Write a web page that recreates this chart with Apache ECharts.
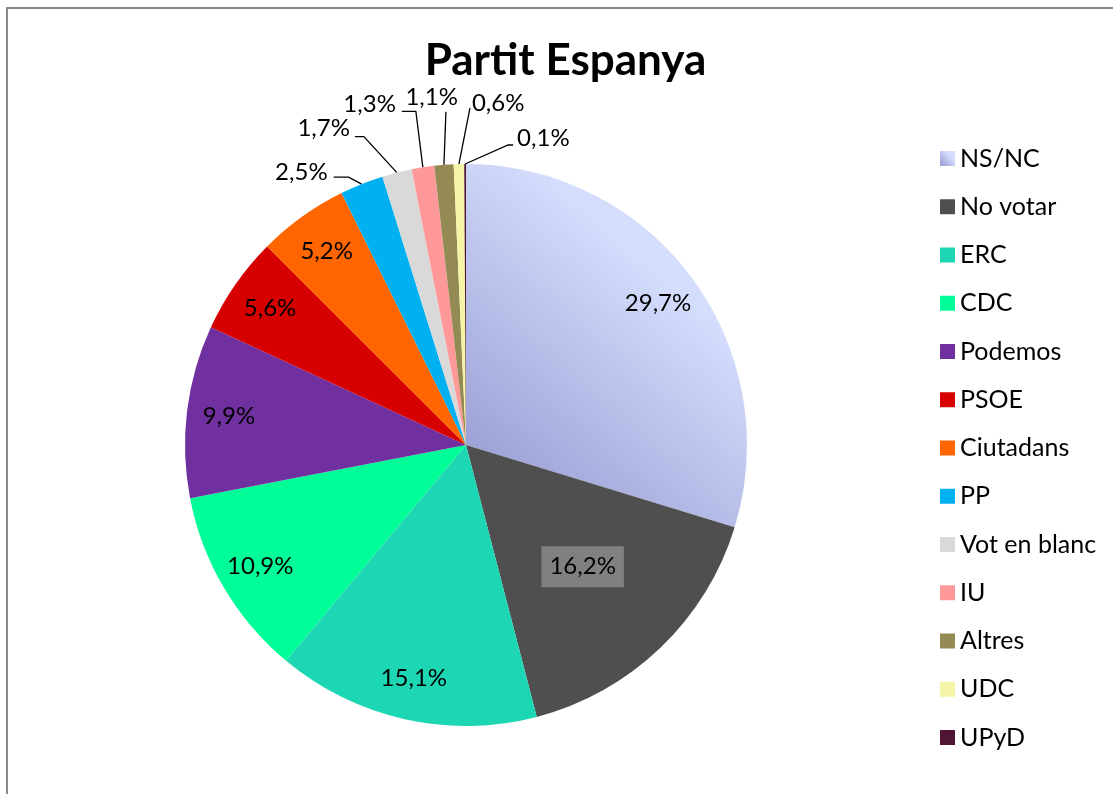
<!DOCTYPE html>
<html>
<head>
<meta charset="utf-8">
<script src="https://cdn.jsdelivr.net/npm/echarts@6/dist/echarts.min.js"></script>
<style>
  html, body { margin: 0; padding: 0; background: #fff; }
  #chart { width: 1113px; height: 794px; }
</style>
</head>
<body>
<div id="chart"></div>
<script>
// data
const categories = ['NS/NC', 'No votar', 'ERC', 'CDC', 'Podemos', 'PSOE', 'Ciutadans', 'PP', 'Vot en blanc', 'IU', 'Altres', 'UDC', 'UPyD'];
const values = [29.7, 16.2, 15.1, 10.9, 9.9, 5.6, 5.2, 2.5, 1.7, 1.3, 1.1, 0.6, 0.1];

const palette = [
  new echarts.graphic.LinearGradient(0, 0.78, 0.6, 0.25, [
    { offset: 0, color: '#9ca1d6' },
    { offset: 1, color: '#d4ddfc' }
  ]),
  '#4f4f4f', '#1cd6b4', '#00fd98', '#7030a0', '#d60000', '#ff6600',
  '#00b0f0', '#d9d9d9', '#ff9999', '#948a54', '#f6f4a6', '#501533'
];

const CX = 466, CY = 445, R = 281;
const FONT = 'Lato';

// where the labels sit, Excel-like
const insideRadius = { 'No votar': 0.6 };
// [elbow dx, elbow dy, horizontal length, text dx, text dy, align]
const outerLabels = {
  'PP': [-13, -7, -15, -6, -5, 'right'],
  'Vot en blanc': [-33, -36, -9, -5, -8, 'right'],
  'IU': [-7, -56, -14, -6, -7, 'right'],
  'Altres': [2, -53, 0, 12, -15, 'right'],
  'UDC': [11, -56, 0, 2, -5, 'left'],
  'UPyD': [43, -19, 5, 4, -7, 'left']
};

function fmt(v) {
  return v.toFixed(1).replace('.', ',') + '%';
}

const chart = echarts.init(document.getElementById('chart'));

chart.setOption({
  backgroundColor: '#fff',
  animation: false,
  title: {
    text: 'Partit Espanya',
    left: 565.5,
    textAlign: 'center',
    top: 40,
    padding: 0,
    textStyle: { fontFamily: FONT, fontWeight: 'bold', fontSize: 44, color: '#000', lineHeight: 41 }
  },
  legend: {
    orient: 'vertical',
    left: 935,
    top: 141,
    icon: 'rect',
    itemWidth: 15,
    itemHeight: 15,
    itemGap: 23.25,
    selectedMode: false,
    textStyle: { fontFamily: FONT, fontSize: 25, lineHeight: 25, color: '#000' },
    data: categories
  },
  graphic: [{
    type: 'rect',
    shape: { x: 7, y: 8, width: 1300, height: 1000 },
    style: { fill: 'none', stroke: '#8a8a8a', lineWidth: 2 },
    silent: true
  }],
  series: [{
    type: 'pie',
    center: [CX, CY],
    radius: R,
    startAngle: 90,
    clockwise: true,
    avoidLabelOverlap: false,
    emphasis: { disabled: true },
    itemStyle: { borderWidth: 0 },
    label: {
      show: true,
      position: 'outside',
      fontFamily: FONT,
      fontSize: 24,
      lineHeight: 24,
      color: '#000',
      formatter: p => fmt(p.value)
    },
    labelLine: { show: true, lineStyle: { color: '#000', width: 1.3 } },
    data: categories.map((name, i) => {
      const item = { name: name, value: values[i], itemStyle: { color: palette[i] } };
      if (values[i] >= 3) {
        item.label = { position: 'inside' };
        item.labelLine = { show: false };
        if (name === 'No votar') {
          item.label.backgroundColor = '#808080';
          item.label.padding = [9, 8, 8, 8];
        }
      }
      return item;
    }),
    labelLayout: function (p) {
      const name = categories[p.dataIndex];
      const rect = p.labelRect;
      if (values[p.dataIndex] >= 3) {
        const lx = rect.x + rect.width / 2 - CX;
        const ly = rect.y + rect.height / 2 - CY;
        const len = Math.sqrt(lx * lx + ly * ly) || 1;
        const d = (insideRadius[name] || 0.85) * R;
        return { x: CX + lx / len * d, y: CY + ly / len * d, align: 'center', verticalAlign: 'middle' };
      }
      const o = outerLabels[name];
      const pts = p.labelLinePoints;
      if (!o || !pts) return {};
      const e = pts[0];
      const elbow = [e[0] + o[0], e[1] + o[1]];
      const end = [elbow[0] + o[2], elbow[1]];
      return {
        x: end[0] + o[3],
        y: end[1] + o[4],
        align: o[5],
        verticalAlign: 'middle',
        labelLinePoints: [e, elbow, end]
      };
    }
  }]
});
</script>
</body>
</html>
